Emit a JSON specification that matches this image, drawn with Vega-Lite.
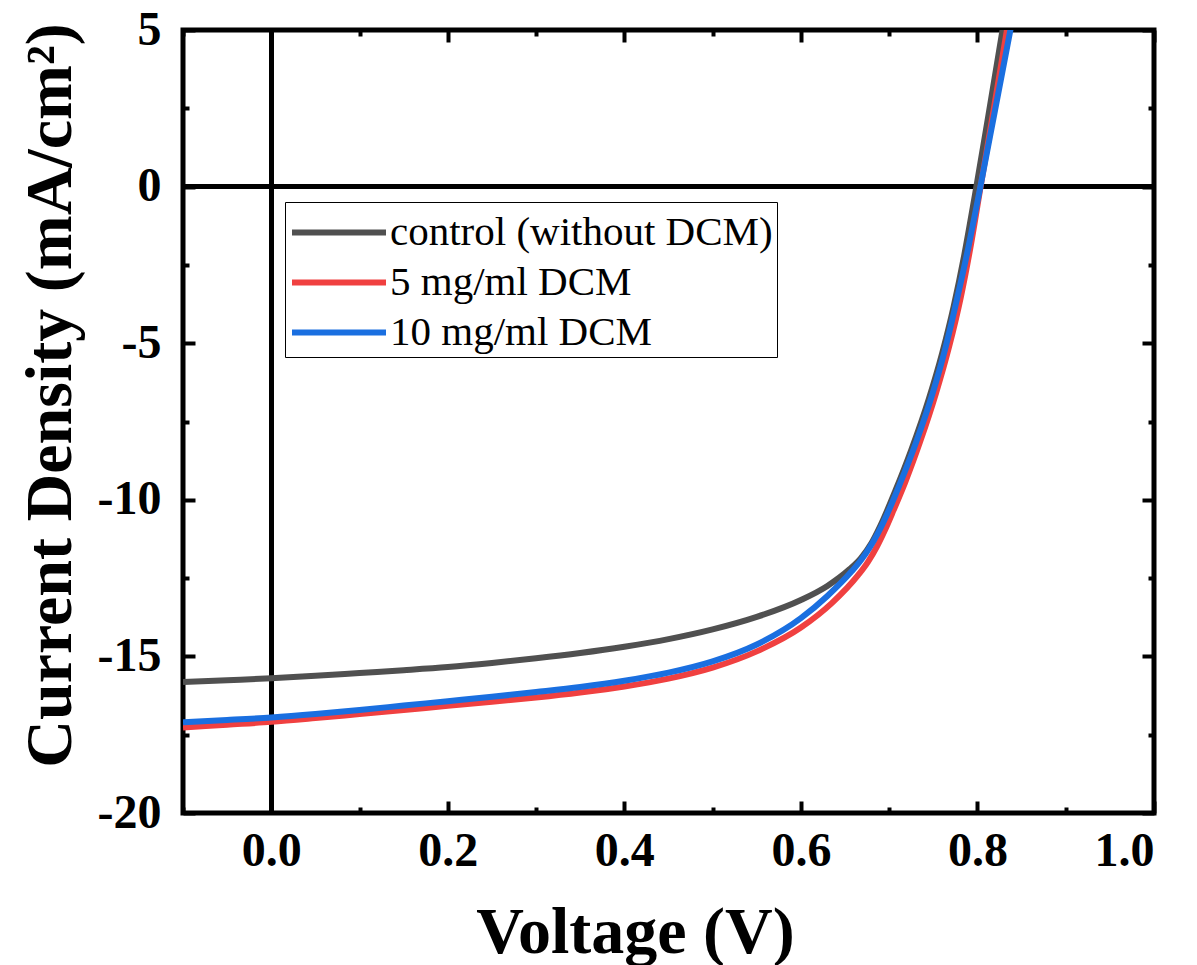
{
  "$schema": "https://vega.github.io/schema/vega-lite/v6.json",
  "autosize": {"type": "none"},
  "padding": {"left": 183, "top": 30, "right": 43, "bottom": 152},
  "width": 971,
  "height": 783,
  "background": "white",
  "config": {
    "view": {"stroke": "black", "strokeWidth": 5},
    "axis": {
      "domain": false, "grid": false, "tickColor": "black", "tickWidth": 4,
      "labelFont": "Liberation Serif", "labelFontWeight": "bold", "labelFontSize": 48, "labelColor": "black",
      "titleFont": "Liberation Serif", "titleFontWeight": "bold", "titleFontSize": 66, "titleColor": "black"
    },
    "legend": {
      "orient": "none", "legendX": 102, "legendY": 172,
      "strokeColor": "black", "fillColor": "white",
      "labelFont": "Liberation Serif", "labelFontSize": 41, "labelColor": "black", "labelLimit": 0,
      "symbolType": "M-1,0H3", "symbolStrokeWidth": 6, "symbolSize": 2209,
      "padding": 4, "rowPadding": 3, "labelOffset": 48
    }
  },
  "data": {"values": [
    {"s": "control (without DCM)", "V": -0.1, "J": -15.82},
    {"s": "control (without DCM)", "V": -0.05, "J": -15.76},
    {"s": "control (without DCM)", "V": 0.0, "J": -15.7},
    {"s": "control (without DCM)", "V": 0.05, "J": -15.62},
    {"s": "control (without DCM)", "V": 0.1, "J": -15.53},
    {"s": "control (without DCM)", "V": 0.15, "J": -15.44},
    {"s": "control (without DCM)", "V": 0.2, "J": -15.34},
    {"s": "control (without DCM)", "V": 0.25, "J": -15.21},
    {"s": "control (without DCM)", "V": 0.3, "J": -15.06},
    {"s": "control (without DCM)", "V": 0.35, "J": -14.89},
    {"s": "control (without DCM)", "V": 0.4, "J": -14.69},
    {"s": "control (without DCM)", "V": 0.45, "J": -14.45},
    {"s": "control (without DCM)", "V": 0.5, "J": -14.14},
    {"s": "control (without DCM)", "V": 0.55, "J": -13.74},
    {"s": "control (without DCM)", "V": 0.6, "J": -13.2},
    {"s": "control (without DCM)", "V": 0.63, "J": -12.75},
    {"s": "control (without DCM)", "V": 0.655, "J": -12.22},
    {"s": "control (without DCM)", "V": 0.668, "J": -11.86},
    {"s": "control (without DCM)", "V": 0.68, "J": -11.38},
    {"s": "control (without DCM)", "V": 0.69, "J": -10.83},
    {"s": "control (without DCM)", "V": 0.707, "J": -9.71},
    {"s": "control (without DCM)", "V": 0.725, "J": -8.41},
    {"s": "control (without DCM)", "V": 0.745, "J": -6.77},
    {"s": "control (without DCM)", "V": 0.76, "J": -5.32},
    {"s": "control (without DCM)", "V": 0.773, "J": -3.83},
    {"s": "control (without DCM)", "V": 0.785, "J": -2.19},
    {"s": "control (without DCM)", "V": 0.797, "J": -0.29},
    {"s": "control (without DCM)", "V": 0.812, "J": 2.21},
    {"s": "control (without DCM)", "V": 0.829, "J": 5.1},
    {"s": "5 mg/ml DCM", "V": -0.1, "J": -17.27},
    {"s": "5 mg/ml DCM", "V": -0.05, "J": -17.18},
    {"s": "5 mg/ml DCM", "V": 0.0, "J": -17.09},
    {"s": "5 mg/ml DCM", "V": 0.05, "J": -16.97},
    {"s": "5 mg/ml DCM", "V": 0.1, "J": -16.84},
    {"s": "5 mg/ml DCM", "V": 0.15, "J": -16.71},
    {"s": "5 mg/ml DCM", "V": 0.2, "J": -16.58},
    {"s": "5 mg/ml DCM", "V": 0.25, "J": -16.45},
    {"s": "5 mg/ml DCM", "V": 0.3, "J": -16.31},
    {"s": "5 mg/ml DCM", "V": 0.35, "J": -16.15},
    {"s": "5 mg/ml DCM", "V": 0.4, "J": -15.96},
    {"s": "5 mg/ml DCM", "V": 0.45, "J": -15.71},
    {"s": "5 mg/ml DCM", "V": 0.5, "J": -15.36},
    {"s": "5 mg/ml DCM", "V": 0.55, "J": -14.84},
    {"s": "5 mg/ml DCM", "V": 0.6, "J": -14.08},
    {"s": "5 mg/ml DCM", "V": 0.635, "J": -13.3},
    {"s": "5 mg/ml DCM", "V": 0.665, "J": -12.4},
    {"s": "5 mg/ml DCM", "V": 0.676, "J": -11.98},
    {"s": "5 mg/ml DCM", "V": 0.686, "J": -11.5},
    {"s": "5 mg/ml DCM", "V": 0.695, "J": -10.98},
    {"s": "5 mg/ml DCM", "V": 0.705, "J": -10.33},
    {"s": "5 mg/ml DCM", "V": 0.718, "J": -9.45},
    {"s": "5 mg/ml DCM", "V": 0.735, "J": -8.15},
    {"s": "5 mg/ml DCM", "V": 0.753, "J": -6.6},
    {"s": "5 mg/ml DCM", "V": 0.768, "J": -5.1},
    {"s": "5 mg/ml DCM", "V": 0.781, "J": -3.55},
    {"s": "5 mg/ml DCM", "V": 0.792, "J": -1.95},
    {"s": "5 mg/ml DCM", "V": 0.803, "J": -0.1},
    {"s": "5 mg/ml DCM", "V": 0.818, "J": 2.4},
    {"s": "5 mg/ml DCM", "V": 0.834, "J": 5.1},
    {"s": "10 mg/ml DCM", "V": -0.1, "J": -17.1},
    {"s": "10 mg/ml DCM", "V": -0.05, "J": -17.03},
    {"s": "10 mg/ml DCM", "V": 0.0, "J": -16.95},
    {"s": "10 mg/ml DCM", "V": 0.05, "J": -16.84},
    {"s": "10 mg/ml DCM", "V": 0.1, "J": -16.71},
    {"s": "10 mg/ml DCM", "V": 0.15, "J": -16.57},
    {"s": "10 mg/ml DCM", "V": 0.2, "J": -16.43},
    {"s": "10 mg/ml DCM", "V": 0.25, "J": -16.29},
    {"s": "10 mg/ml DCM", "V": 0.3, "J": -16.14},
    {"s": "10 mg/ml DCM", "V": 0.35, "J": -15.98},
    {"s": "10 mg/ml DCM", "V": 0.4, "J": -15.78},
    {"s": "10 mg/ml DCM", "V": 0.45, "J": -15.52},
    {"s": "10 mg/ml DCM", "V": 0.5, "J": -15.16},
    {"s": "10 mg/ml DCM", "V": 0.55, "J": -14.62},
    {"s": "10 mg/ml DCM", "V": 0.6, "J": -13.78},
    {"s": "10 mg/ml DCM", "V": 0.63, "J": -13.07},
    {"s": "10 mg/ml DCM", "V": 0.657, "J": -12.3},
    {"s": "10 mg/ml DCM", "V": 0.668, "J": -11.93},
    {"s": "10 mg/ml DCM", "V": 0.678, "J": -11.52},
    {"s": "10 mg/ml DCM", "V": 0.687, "J": -11.08},
    {"s": "10 mg/ml DCM", "V": 0.697, "J": -10.5},
    {"s": "10 mg/ml DCM", "V": 0.712, "J": -9.5},
    {"s": "10 mg/ml DCM", "V": 0.73, "J": -8.2},
    {"s": "10 mg/ml DCM", "V": 0.749, "J": -6.62},
    {"s": "10 mg/ml DCM", "V": 0.764, "J": -5.12},
    {"s": "10 mg/ml DCM", "V": 0.777, "J": -3.57},
    {"s": "10 mg/ml DCM", "V": 0.79, "J": -1.9},
    {"s": "10 mg/ml DCM", "V": 0.803, "J": -0.05},
    {"s": "10 mg/ml DCM", "V": 0.82, "J": 2.45},
    {"s": "10 mg/ml DCM", "V": 0.838, "J": 5.1}
  ]},
  "resolve": {"axis": {"x": "independent", "y": "independent"}},
  "layer": [
    {
      "mark": {"type": "rule", "color": "black", "strokeWidth": 4},
      "encoding": {
        "x": {"datum": 0, "type": "quantitative", "scale": {"domain": [-0.1, 1.0], "nice": false, "zero": false},
          "axis": {"orient": "bottom", "values": [-0.1, 0.1, 0.3, 0.5, 0.7, 0.9], "labels": false, "tickSize": -6, "title": null}},
        "y": {"datum": -20, "type": "quantitative", "scale": {"domain": [-20, 5], "nice": false, "zero": false},
          "axis": {"orient": "left", "values": [-17.5, -12.5, -7.5, -2.5, 2.5], "labels": false, "tickSize": -6, "title": null}},
        "y2": {"datum": 5}
      }
    },
    {
      "mark": {"type": "rule", "color": "black", "strokeWidth": 4},
      "encoding": {
        "y": {"datum": 0, "type": "quantitative",
          "axis": {"orient": "right", "values": [-20, -15, -10, -5, 0, 5], "labels": false, "tickSize": -12, "title": null}},
        "x": {"datum": -0.1, "type": "quantitative",
          "axis": {"orient": "top", "values": [0, 0.2, 0.4, 0.6, 0.8, 1.0], "labels": false, "tickSize": -12, "title": null}},
        "x2": {"datum": 1.0}
      }
    },
    {
      "mark": {"type": "rule", "opacity": 0},
      "encoding": {
        "y": {"datum": 0, "type": "quantitative",
          "axis": {"orient": "right", "values": [-17.5, -12.5, -7.5, -2.5, 2.5], "labels": false, "tickSize": -6, "title": null}},
        "x": {"datum": 0, "type": "quantitative",
          "axis": {"orient": "top", "values": [-0.1, 0.1, 0.3, 0.5, 0.7, 0.9], "labels": false, "tickSize": -6, "title": null}}
      }
    },
    {
      "mark": {"type": "line", "strokeWidth": 6, "interpolate": "monotone", "clip": true},
      "encoding": {
        "x": {"field": "V", "type": "quantitative",
          "axis": {"orient": "bottom", "values": [0, 0.2, 0.4, 0.6, 0.8, 1.0], "format": ".1f", "tickSize": -12, "labelPadding": 26,
            "title": "Voltage (V)", "titleX": 452, "titleY": 139, "titleBaseline": "alphabetic"}},
        "y": {"field": "J", "type": "quantitative",
          "axis": {"orient": "left", "values": [-20, -15, -10, -5, 0, 5], "tickSize": -12, "labelPadding": 34,
            "labelExpr": "datum.value < 0 ? '-' + abs(datum.value) : '' + datum.value",
            "title": "Current Density (mA/cm²)", "titleX": -113, "titleY": 365, "titleBaseline": "alphabetic", "titleAngle": -90}},
        "color": {"field": "s", "type": "nominal",
          "scale": {"domain": ["control (without DCM)", "5 mg/ml DCM", "10 mg/ml DCM"], "range": ["#505050", "#f04040", "#1a6fe0"]},
          "legend": {"title": null}},
        "order": {"field": "V"}
      }
    }
  ]
}
